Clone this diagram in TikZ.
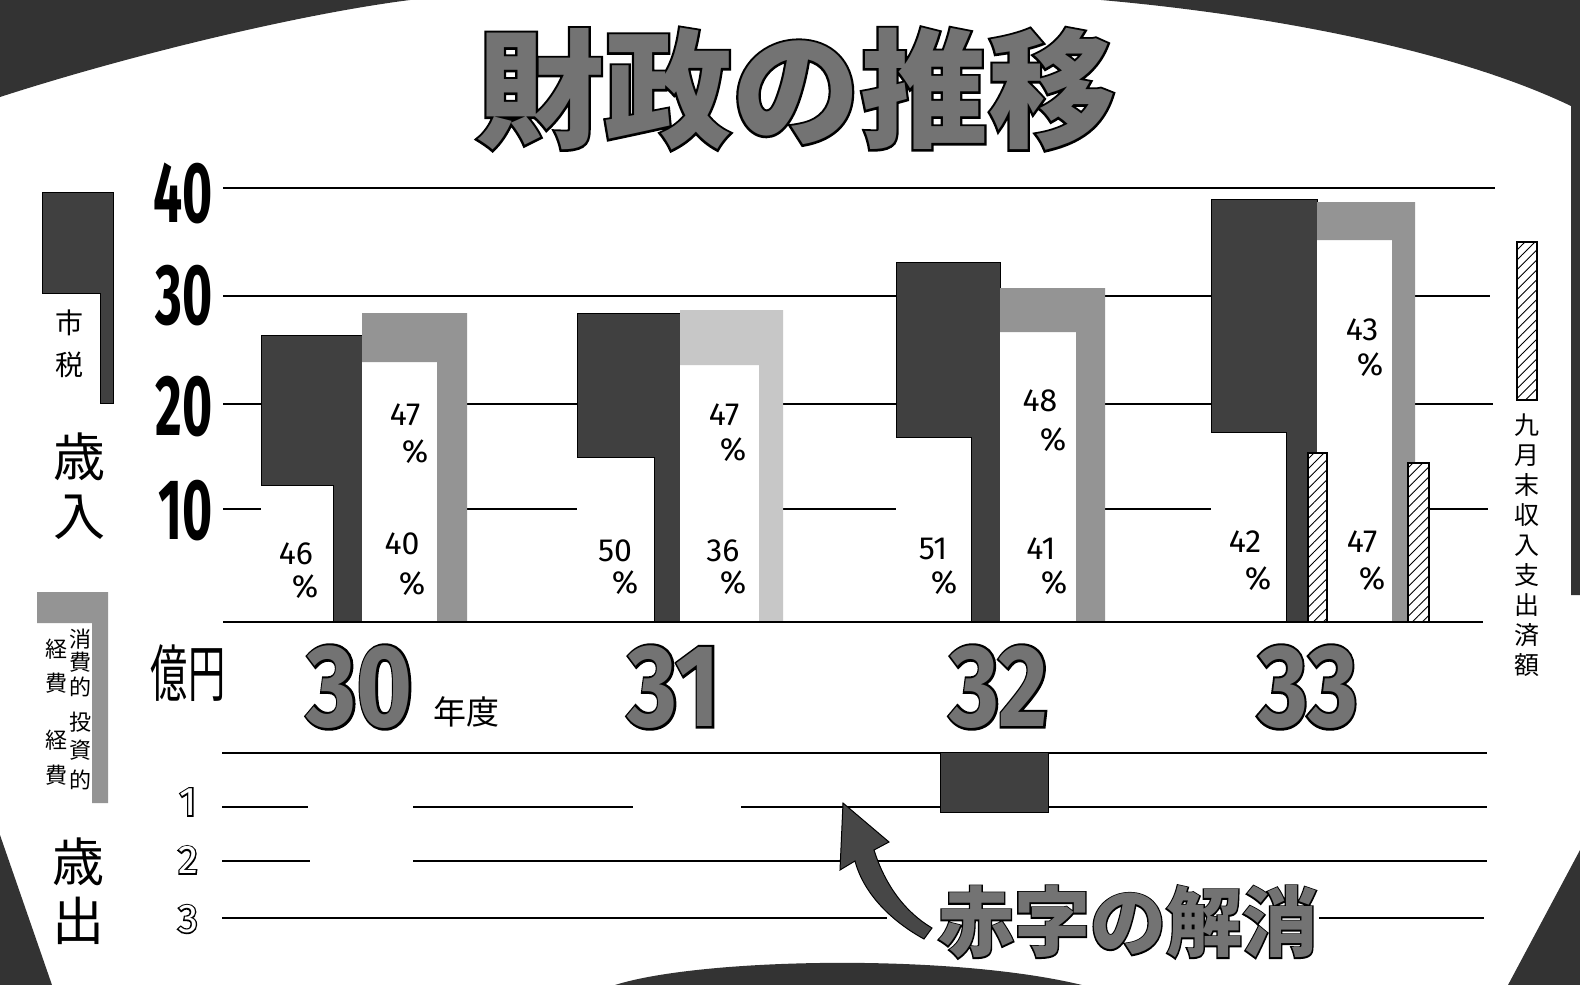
\documentclass[tikz,border=0pt]{standalone}
\usepackage{fontspec}
\usetikzlibrary{patterns.meta}
\newfontfamily\jp{Noto Sans CJK JP}
\newfontfamily\jpol{Noto Sans CJK JP}[FakeBold=3.5]
\newfontfamily\numf{Fira Sans}
\newfontfamily\numol{Fira Sans}[FakeBold=4]
\newfontfamily\numhol{Fira Sans}[FakeBold=7]
\newcommand\darkbar[5]{% L R top W S
  \fill[white] (#1,#3) rectangle (#2,622);
  \filldraw[dk] (#1,#3) -- (#2,#3) -- (#2,622) -- (#5,622) -- (#5,#4) -- (#1,#4) -- cycle;}
\newcommand\lightbar[6]{% L R top N I style
  \fill[white] (#1,#3) rectangle (#2,622);
  \fill[#6] (#1,#3) -- (#2,#3) -- (#2,622) -- (#5,622) -- (#5,#4) -- (#1,#4) -- cycle;}
\newcommand\oljp[5]{% name pos size fill text
  \node[inner sep=0pt,text=black,font=\jpol\bfseries\fontsize{#3}{#3}\selectfont] (#1o) at #2 {#5};
  \node[inner sep=0pt,text=#4,font=\jp\bfseries\fontsize{#3}{#3}\selectfont] (#1) at #2 {#5};}
\newcommand\olnum[5]{% name pos size fill text
  \node[inner sep=0pt,text=black,font=\numol\bfseries\fontsize{#3}{#3}\selectfont] (#1o) at #2 {\scalebox{0.82}[1]{#5}};
  \node[inner sep=0pt,text=#4,font=\numf\bfseries\fontsize{#3}{#3}\selectfont] (#1) at #2 {\scalebox{0.82}[1]{#5}};}
\newcommand\holnum[3]{% name pos text (hollow digit)
  \node[inner sep=0pt,text=black,font=\numhol\fontsize{40}{40}\selectfont] (#1o) at #2 {#3};
  \node[inner sep=0pt,text=white,font=\numf\fontsize{40}{40}\selectfont] (#1) at #2 {#3};}
\begin{document}
\begin{tikzpicture}[x=1pt,y=-1pt,
  corner/.style={fill=black!80},
  grid/.style={line width=1.8pt,line cap=butt},
  dk/.style={fill=black!75,draw=black,line width=1pt},
  lt/.style={fill=black!42},
  ltp/.style={fill=black!22},
  hatch/.style={fill=white,draw=black,line width=1.2pt,postaction={pattern={Lines[angle=45,distance=7pt,line width=0.9pt]}}},
  pct/.style={inner sep=0pt,font=\numf\fontsize{32}{32}\selectfont},
  jlab/.style={inner sep=0pt,font=\jp\fontsize{22}{22}\selectfont}]
\useasboundingbox (0,0) rectangle (1580,985);
\fill[white] (0,0) rectangle (1580,985);
% dark corner areas
\fill[corner] (0,0) -- (410,0) .. controls (300,14) and (130,55) .. (0,97) -- cycle;
\fill[corner] (1101,0) .. controls (1260,14) and (1450,48) .. (1571,106) -- (1571,595) -- (1580,595) -- (1580,0) -- cycle;
\fill[corner] (0,835) -- (52,985) -- (0,985) -- cycle;
\fill[corner] (615,985) .. controls (700,958) and (950,953) .. (1082,985) -- cycle;
\fill[corner] (1580,850) -- (1580,985) -- (1508,985) -- cycle;
% title
\oljp{title}{(796,89)}{128}{black!55}{財政の推移}
% upper grid
\foreach \y/\xb in {188/1495,296/1490,404/1493,509/1488}
  \draw[grid] (223,\y) -- (\xb,\y);
% bars
\darkbar{261}{362}{335}{485}{333}
\lightbar{362}{467}{313}{362}{437}{lt}
\darkbar{577}{680}{313}{457}{654}
\lightbar{680}{783}{310}{365}{759}{ltp}
\darkbar{896}{1000}{262}{437}{971}
\lightbar{1000}{1105}{288}{332}{1076}{lt}
\darkbar{1211}{1317}{199}{432}{1286}
\lightbar{1317}{1415}{202}{240}{1392}{lt}
\draw[hatch] (1308,453) rectangle (1327,622);
\draw[hatch] (1408,463) rectangle (1429,622);
\draw[grid] (223,622) -- (1483,622);
% percentages
\foreach \n/\t/\x/\y/\px/\py in {
  a/46/296/554/305/587, b/47/405/415/415/452, c/40/402/544/412/584,
  d/50/615/551/625/583, e/47/724/415/733/450, f/36/723/551/733/583,
  g/51/933/549/944/583, h/48/1040/401/1053/440, i/41/1041/549/1054/583,
  j/42/1245/542/1258/579, k/43/1362/330/1370/365, l/47/1362/542/1372/579}{
  \node[pct] (p\n) at (\x,\y) {\t};
  \node[pct] (q\n) at (\px,\py) {\%};}
% axis numbers
\foreach \n/\v/\y in {a/40/193,b/30/296,c/20/407,d/10/511}
  \node[anchor=east,inner sep=0pt,font=\numf\bfseries\fontsize{86}{86}\selectfont] (ax\n) at (213,\y) {\scalebox{0.6}[1]{\v}};
\node[inner sep=0pt,font=\jp\fontsize{62}{62}\selectfont] (oku) at (188,673) {\scalebox{0.6}[1]{億円}};
% years
\olnum{y30}{(360,687)}{117}{black!55}{30}
\olnum{y31}{(674,687)}{117}{black!55}{31}
\olnum{y32}{(999,687)}{117}{black!55}{32}
\olnum{y33}{(1308,687)}{117}{black!55}{33}
\node[inner sep=0pt,font=\jp\fontsize{33}{33}\selectfont] (nendo) at (466,712) {年度};
% lower grid
\draw[grid] (222,753) -- (1487,753);
\draw[grid] (222,807) -- (308,807);
\draw[grid] (413,807) -- (633,807);
\draw[grid] (741,807) -- (1487,807);
\draw[grid] (222,861) -- (310,861);
\draw[grid] (413,861) -- (1487,861);
\draw[grid] (222,918) -- (887,918);
\draw[grid] (1319,918) -- (1484,918);
\holnum{n1}{(188,802)}{1}
\holnum{n2}{(188,860)}{2}
\holnum{n3}{(188,919)}{3}
% deficit bar
\filldraw[dk] (940,752) rectangle (1048,812);
% arrow
\filldraw[fill=black!72,draw=black,line width=1pt] (843,803) -- (889,842) -- (874,850)
  .. controls (885,885) and (905,912) .. (932,928) -- (924,939)
  .. controls (893,922) and (864,895) .. (855,861) -- (840,870) -- cycle;
\oljp{deficit}{(1128,922)}{76}{black!55}{赤字の解消}
% left legend, revenue
\filldraw[dk] (42,192) -- (113,192) -- (113,403) -- (100,403) -- (100,293) -- (42,293) -- cycle;
\node[align=center,inner sep=0pt,font=\jp\fontsize{28}{42}\selectfont] (shizei) at (69,344) {市\\税};
\node[align=center,inner sep=0pt,font=\jp\fontsize{52}{59}\selectfont] (sainyu) at (79,486) {歳\\入};
% left legend, expenditure
\fill[lt] (37,592) -- (108,592) -- (108,803) -- (92,803) -- (92,623) -- (37,623) -- cycle;
\node[jlab] (c1) at (80,639) {消};
\node[jlab] (c2) at (80,662) {費};
\node[jlab] (c3) at (80,687) {的};
\node[jlab] (c4) at (80,722) {投};
\node[jlab] (c5) at (80,750) {資};
\node[jlab] (c6) at (80,780) {的};
\node[jlab] (c7) at (56,649) {経};
\node[jlab] (c8) at (56,683) {費};
\node[jlab] (c9) at (56,740) {経};
\node[jlab] (c10) at (56,775) {費};
\node[align=center,inner sep=0pt,font=\jp\fontsize{52}{59}\selectfont] (saishutsu) at (78,891) {歳\\出};
% right legend
\draw[hatch] (1517,242) rectangle (1537,400);
\node[align=center,inner sep=0pt,font=\jp\fontsize{25}{30}\selectfont] (kugatsu) at (1527,545) {九\\月\\末\\収\\入\\支\\出\\済\\額};
\end{tikzpicture}
\end{document}
